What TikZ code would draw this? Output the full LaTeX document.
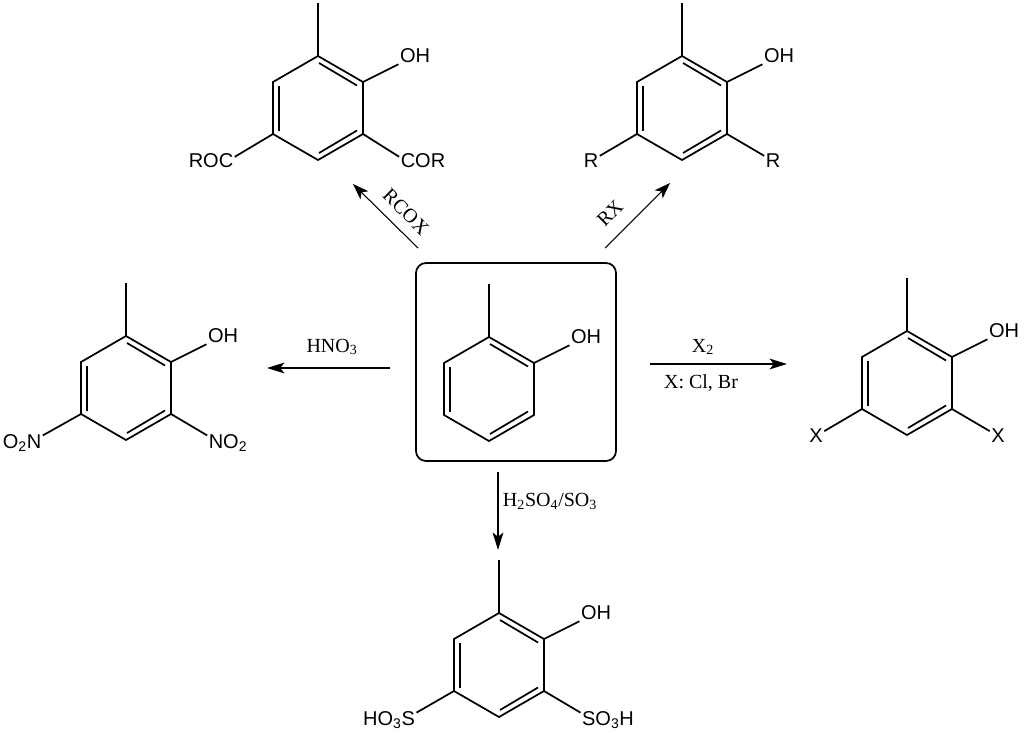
\documentclass[tikz,border=0pt]{standalone}
\usepackage{fontspec}
\setmainfont{Liberation Serif}
\setsansfont{Liberation Sans}
\usetikzlibrary{arrows.meta}
\tikzset{
	bond/.style={line width=1.3pt},
	chem/.style={font=\sffamily\fontsize{15}{17}\selectfont,inner sep=1pt},
	reagent/.style={font=\fontsize{15}{17}\selectfont,inner sep=1pt},
	rxn/.style={line width=1.3pt,-{Stealth[length=13pt,width=8pt,inset=3pt]}},
	thinrxn/.style={line width=.8pt,-{Stealth[length=12pt,width=8.5pt,inset=3pt]}},
	ring/.pic={
		\coordinate (-t) at (0,-52);
		\coordinate (-ur) at (45,-26);
		\coordinate (-lr) at (45,26);
		\coordinate (-b) at (0,52);
		\coordinate (-ll) at (-45,26);
		\coordinate (-ul) at (-45,-26);
		\coordinate (-me) at (0,-105);
		\node[chem] (-oh) at (97,-52) {OH};
		\draw[bond] (-t) -- (-ur) -- (-lr) -- (-b) -- (-ll) -- (-ul) -- cycle;
		\draw[bond] (1,-45) -- (39,-22.5);
		\draw[bond] (39,22.5) -- (1,45);
		\draw[bond] (-39,-22.5) -- (-39,22.5);
		\draw[bond] (-t) -- (-me);
		\draw[bond] (-ur) -- (-oh);
	}
}
\begin{document}
\begin{tikzpicture}[x=.75pt,y=-.75pt]
\useasboundingbox (0,0) rectangle (1024,732);
\node[draw,line width=1.3pt,rounded corners=7.5pt,minimum width=150pt,minimum height=148.5pt,inner sep=0pt] (box) at (516,362) {};
\pic (start) at (489,389) {ring};

\pic (acyl) at (318,108) {ring};
\node[chem] (acylL) at (211,161) {ROC};
\node[chem] (acylR) at (423,161) {COR};
\draw[bond] (acyl-ll) -- (acylL.10);
\draw[bond] (acyl-lr) -- (acylR.170);

\pic (alkyl) at (682,108) {ring};
\node[chem] (alkylL) at (591,161) {R};
\node[chem] (alkylR) at (773,161) {R};
\draw[bond] (alkyl-ll) -- (alkylL);
\draw[bond] (alkyl-lr) -- (alkylR);

\pic (nitro) at (126,388) {ring};
\node[chem] (nitroL) at (22,443) {O\textsubscript{2}N};
\node[chem] (nitroR) at (228,443) {NO\textsubscript{2}};
\draw[bond] (nitro-ll) -- (nitroL.20);
\draw[bond] (nitro-lr) -- (nitroR.160);

\pic (halo) at (907,383) {ring};
\node[chem] (haloL) at (816,436) {X};
\node[chem] (haloR) at (998,436) {X};
\draw[bond] (halo-ll) -- (haloL);
\draw[bond] (halo-lr) -- (haloR);

\pic (sulfo) at (499,665) {ring};
\node[chem] (sulfoL) at (389,720) {HO\textsubscript{3}S};
\node[chem] (sulfoR) at (608,720) {SO\textsubscript{3}H};
\draw[bond] (sulfo-ll) -- (sulfoL.15);
\draw[bond] (sulfo-lr) -- (sulfoR.165);

\coordinate (acylA) at (418,248);
\coordinate (acylB) at (353,184);
\coordinate (alkylA) at (605,248);
\coordinate (alkylB) at (670,183);
\coordinate (nitroA) at (390,368);
\coordinate (nitroB) at (267,368);
\coordinate (haloA) at (650,364);
\coordinate (haloB) at (787,364);
\coordinate (sulfoA) at (498,472);
\coordinate (sulfoB) at (498,550);
\draw[thinrxn] (acylA) -- (acylB);
\draw[thinrxn] (alkylA) -- (alkylB);
\draw[rxn] (nitroA) -- (nitroB);
\draw[rxn] (haloA) -- (haloB);
\draw[rxn] (sulfoA) -- (sulfoB);

\node[reagent,rotate=-45] (rcox) at (406,212) {RCOX};
\node[reagent,rotate=45] (rx) at (610,213) {RX};
\node[reagent] (hno) at (332,347) {HNO\textsubscript{3}};
\node[reagent] (xtwo) at (703,347) {X\textsubscript{2}};
\node[reagent] (xcl) at (701,383) {X: Cl, Br};
\node[reagent] (sulf) at (550,501) {H\textsubscript{2}SO\textsubscript{4}/SO\textsubscript{3}};
\end{tikzpicture}
\end{document}
